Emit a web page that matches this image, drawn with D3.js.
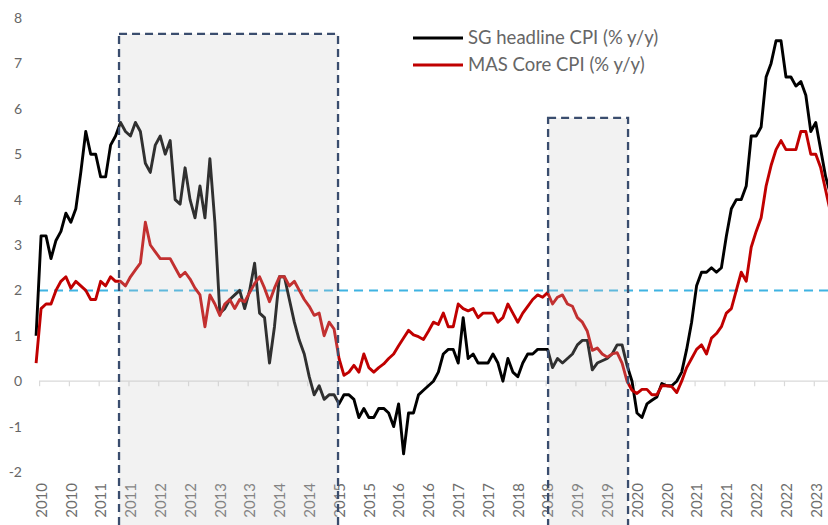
<!DOCTYPE html>
<html>
<head>
<meta charset="utf-8">
<script src="https://cdnjs.cloudflare.com/ajax/libs/d3/7.8.5/d3.min.js"></script>
<style>
    body { margin: 0; background: #fff; }
    svg { display: block; font-family: Lato, 'Open Sans', sans-serif; }
</style>
</head>
<body>
<div id="chart"></div>
<script>
// monthly values, one per month, first point sits on the left edge of the plot
var headline = [
    1.0, 3.2, 3.2, 2.7, 3.1, 3.3, 3.7, 3.5, 3.8, 4.6,
    5.5, 5.0, 5.0, 4.5, 4.5, 5.2, 5.4, 5.7, 5.5, 5.4, 5.7, 5.5,
    4.8, 4.6, 5.2, 5.4, 5.0, 5.3, 4.0, 3.9, 4.7, 4.0, 3.6, 4.3,
    3.6, 4.9, 3.5, 1.5, 1.6, 1.8, 1.9, 2.0, 1.6, 2.0, 2.6, 1.5,
    1.4, 0.4, 1.2, 2.3, 2.3, 1.8, 1.3, 0.9, 0.6, 0.1, -0.3, -0.1,
    -0.4, -0.3, -0.3, -0.5, -0.3, -0.3, -0.4, -0.8, -0.6, -0.8, -0.8, -0.6,
    -0.6, -0.7, -1.0, -0.5, -1.6, -0.7, -0.7, -0.3, -0.2, -0.1, 0.0, 0.2,
    0.6, 0.7, 0.7, 0.4, 1.4, 0.5, 0.6, 0.4, 0.4, 0.4, 0.6, 0.4,
    0.0, 0.5, 0.2, 0.1, 0.4, 0.6, 0.6, 0.7, 0.7, 0.7, 0.3, 0.5,
    0.4, 0.5, 0.6, 0.8, 0.9, 0.9, 0.25, 0.4, 0.45, 0.5, 0.6, 0.8,
    0.8, 0.35, 0.0, -0.7, -0.8, -0.5, -0.42, -0.35, -0.05, -0.1, -0.1, 0.0,
    0.2, 0.7, 1.3, 2.1, 2.4, 2.4, 2.5, 2.4, 2.5, 3.2, 3.8, 4.0,
    4.0, 4.3, 5.4, 5.4, 5.6, 6.7, 7.0, 7.5, 7.5, 6.7, 6.7, 6.5,
    6.6, 6.3, 5.5, 5.7, 5.1, 4.5, 4.1
];

var core = [
    0.4, 1.6, 1.7, 1.7, 2.0, 2.2, 2.3, 2.05, 2.2, 2.1,
    2.0, 1.8, 1.8, 2.2, 2.1, 2.3, 2.2, 2.2, 2.1, 2.3, 2.45, 2.6,
    3.5, 3.0, 2.85, 2.7, 2.7, 2.7, 2.5, 2.3, 2.4, 2.25, 2.05, 1.9,
    1.2, 1.9, 1.7, 1.45, 1.7, 1.8, 1.6, 1.8, 1.75, 1.95, 2.15, 2.3,
    2.05, 1.75, 2.05, 2.3, 2.3, 2.1, 2.2, 2.0, 1.8, 1.65, 1.45, 1.5,
    1.0, 1.3, 1.15, 0.5, 0.13, 0.2, 0.35, 0.2, 0.6, 0.3, 0.2, 0.3,
    0.38, 0.5, 0.6, 0.78, 0.95, 1.12, 1.02, 0.98, 0.92, 1.1, 1.3, 1.25,
    1.5, 1.2, 1.2, 1.7, 1.6, 1.55, 1.6, 1.4, 1.5, 1.5, 1.5, 1.3,
    1.4, 1.7, 1.5, 1.3, 1.5, 1.65, 1.8, 1.9, 1.85, 1.95, 1.7, 1.85,
    1.9, 1.7, 1.65, 1.4, 1.3, 1.1, 0.68, 0.73, 0.6, 0.53, 0.6, 0.63,
    0.4, 0.0, -0.2, -0.27, -0.18, -0.18, -0.3, -0.3, -0.1, -0.1, -0.12, -0.25,
    0.0, 0.3, 0.5, 0.7, 0.8, 0.6, 0.95, 1.05, 1.2, 1.5, 1.6, 2.0,
    2.4, 2.2, 2.95, 3.3, 3.6, 4.3, 4.75, 5.1, 5.3, 5.1, 5.1, 5.1,
    5.5, 5.5, 5.0, 5.0, 4.7, 4.2, 3.7
];

// category labels, one every six months
var tickLabels = ['2010', '2010', '2011', '2011', '2012', '2012', '2013', '2013',
    '2014', '2014', '2015', '2015', '2016', '2016', '2017', '2017', '2018', '2018',
    '2019', '2019', '2020', '2020', '2021', '2021', '2022', '2022', '2023'];

var yTicks = [8, 7, 6, 5, 4, 3, 2, 1, 0, -1, -2];
var targetLevel = 2;

// highlighted periods, in month index units, with the top value of the box
var periodStart = [16.7, 103.1];
var periodEnd = [60.8, 119.2];
var periodTop = [7.65, 5.8];

var seriesNames = ['SG headline CPI (% y/y)', 'MAS Core CPI (% y/y)'];
var seriesColors = ['#000000', '#c00000'];

// set up svg
var svgWidth = 828;
var svgHeight = 525;

var svg = d3.select('#chart')
    .append('svg')
    .attr('width', svgWidth)
    .attr('height', svgHeight);

// scales
var xScale = d3.scaleLinear()
    .domain([0, headline.length - 1])
    .range([36.1, 36.1 + (headline.length - 1) * 4.966]);

var yScale = d3.scaleLinear()
    .domain([-2, 8])
    .range([472, 18]);

var plotLeft = 39;

// y labels (no axis line)
svg.append('g')
    .selectAll('text')
    .data(yTicks)
    .enter()
    .append('text')
    .attr('x', 22)
    .attr('y', d => yScale(d))
    .attr('dy', '0.35em')
    .attr('text-anchor', 'end')
    .attr('font-size', '14px')
    .attr('fill', '#666')
    .text(d => d);

// x axis at zero
var tickPos = tickLabels.map((d, i) => 0.6 + i * 6);

var xAxis = d3.axisBottom(xScale)
    .tickValues(tickPos)
    .tickSize(5)
    .tickFormat((d, i) => tickLabels[i]);

var xAxisGroup = svg.append('g')
    .attr('transform', `translate(0, ${yScale(0)})`)
    .call(xAxis);

xAxisGroup.select('.domain').remove();
xAxisGroup.selectAll('.tick line')
    .attr('stroke', '#d9d9d9')
    .attr('stroke-width', 1.2);
xAxisGroup.selectAll('.tick text')
    .attr('transform', 'rotate(-90)')
    .attr('text-anchor', 'end')
    .attr('x', -(483 - yScale(0)))
    .attr('y', 2)
    .attr('dy', '0.35em')
    .attr('font-family', 'Lato, sans-serif')
    .attr('font-size', '15px')
    .attr('fill', '#6e6e6e');

svg.append('line')
    .attr('x1', plotLeft)
    .attr('x2', svgWidth)
    .attr('y1', yScale(0))
    .attr('y2', yScale(0))
    .attr('stroke', '#d9d9d9')
    .attr('stroke-width', 1.3);

// 2% line
svg.append('line')
    .attr('x1', plotLeft)
    .attr('x2', svgWidth)
    .attr('y1', yScale(targetLevel))
    .attr('y2', yScale(targetLevel))
    .attr('stroke', '#3fb3e2')
    .attr('stroke-width', 2)
    .attr('stroke-dasharray', '9,6');

// series lines
var lineGen = d3.line()
    .x((d, i) => xScale(i))
    .y(d => yScale(d));

[headline, core].forEach(function(series, k) {
    svg.append('path')
        .datum(series)
        .attr('fill', 'none')
        .attr('stroke', seriesColors[k])
        .attr('stroke-width', 2.9)
        .attr('stroke-linejoin', 'round')
        .attr('d', lineGen);
});

// shaded periods drawn over the chart
periodStart.forEach(function(s, k) {
    svg.append('rect')
        .attr('x', xScale(s))
        .attr('y', yScale(periodTop[k]))
        .attr('width', xScale(periodEnd[k]) - xScale(s))
        .attr('height', svgHeight + 10 - yScale(periodTop[k]))
        .attr('fill', 'rgba(200,200,200,0.24)')
        .attr('stroke', '#3a4d6e')
        .attr('stroke-width', 2.3)
        .attr('stroke-dasharray', '8,5');
});

// legend
var legend = svg.append('g');

seriesNames.forEach(function(name, k) {
    var ly = 38 + k * 27;
    legend.append('line')
        .attr('x1', 413)
        .attr('x2', 463)
        .attr('y1', ly)
        .attr('y2', ly)
        .attr('stroke', seriesColors[k])
        .attr('stroke-width', 3);
    legend.append('text')
        .attr('x', 468)
        .attr('y', ly)
        .attr('dy', '0.35em')
        .attr('font-size', '18.5px')
        .attr('fill', '#666')
        .text(name);
});
</script>
</body>
</html>
